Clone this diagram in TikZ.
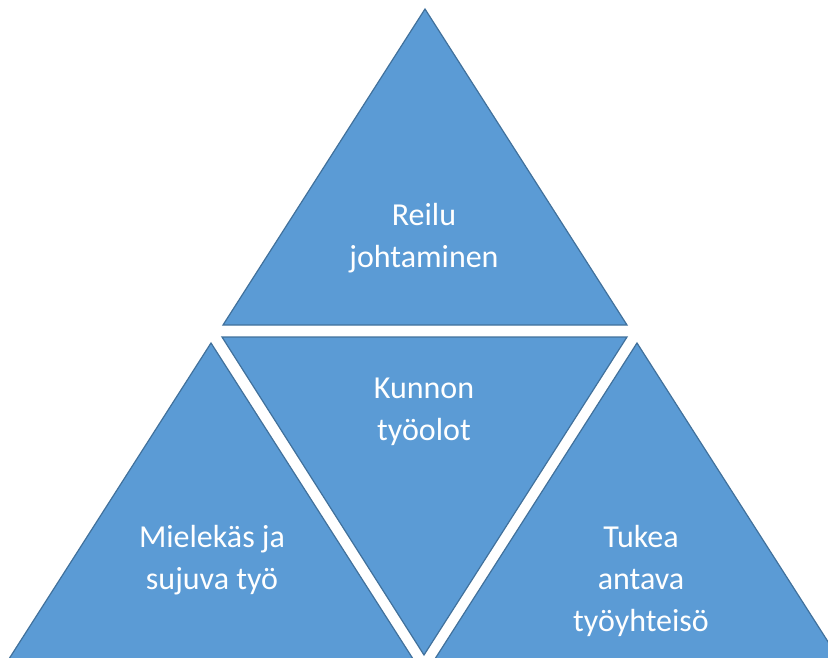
\documentclass[tikz,border=0pt]{standalone}
\usepackage{fontspec}
\setmainfont{Carlito}
\definecolor{trifill}{HTML}{5B9BD5}
\definecolor{triline}{HTML}{41719C}
\begin{document}
\begin{tikzpicture}[x=1pt,y=-1pt,
  tri/.style={fill=trifill,draw=triline,line width=1.2pt,line join=miter},
  lbl/.style={text=white,align=center,font=\fontsize{32}{42}\selectfont,inner sep=0pt}]
\useasboundingbox (0,0) rectangle (828,657);
\begin{scope}
\clip (0,0) rectangle (828,657);
\draw[tri] (425,9) -- (223,325) -- (627,325) -- cycle;
\draw[tri] (222,337) -- (627,337) -- (424,655) -- cycle;
\draw[tri] (211,343) -- (7,662) -- (415,662) -- cycle;
\draw[tri] (637,343) -- (433,662) -- (841,662) -- cycle;
\end{scope}
\node[lbl] (top) at (424,238) {Reilu\\johtaminen};
\node[lbl] (mid) at (424,412) {Kunnon\\työolot};
\node[lbl] (left) at (212,560) {Mielekäs ja\\sujuva työ};
\node[lbl] (right) at (641,581) {Tukea\\antava\\työyhteisö};
\end{tikzpicture}
\end{document}
